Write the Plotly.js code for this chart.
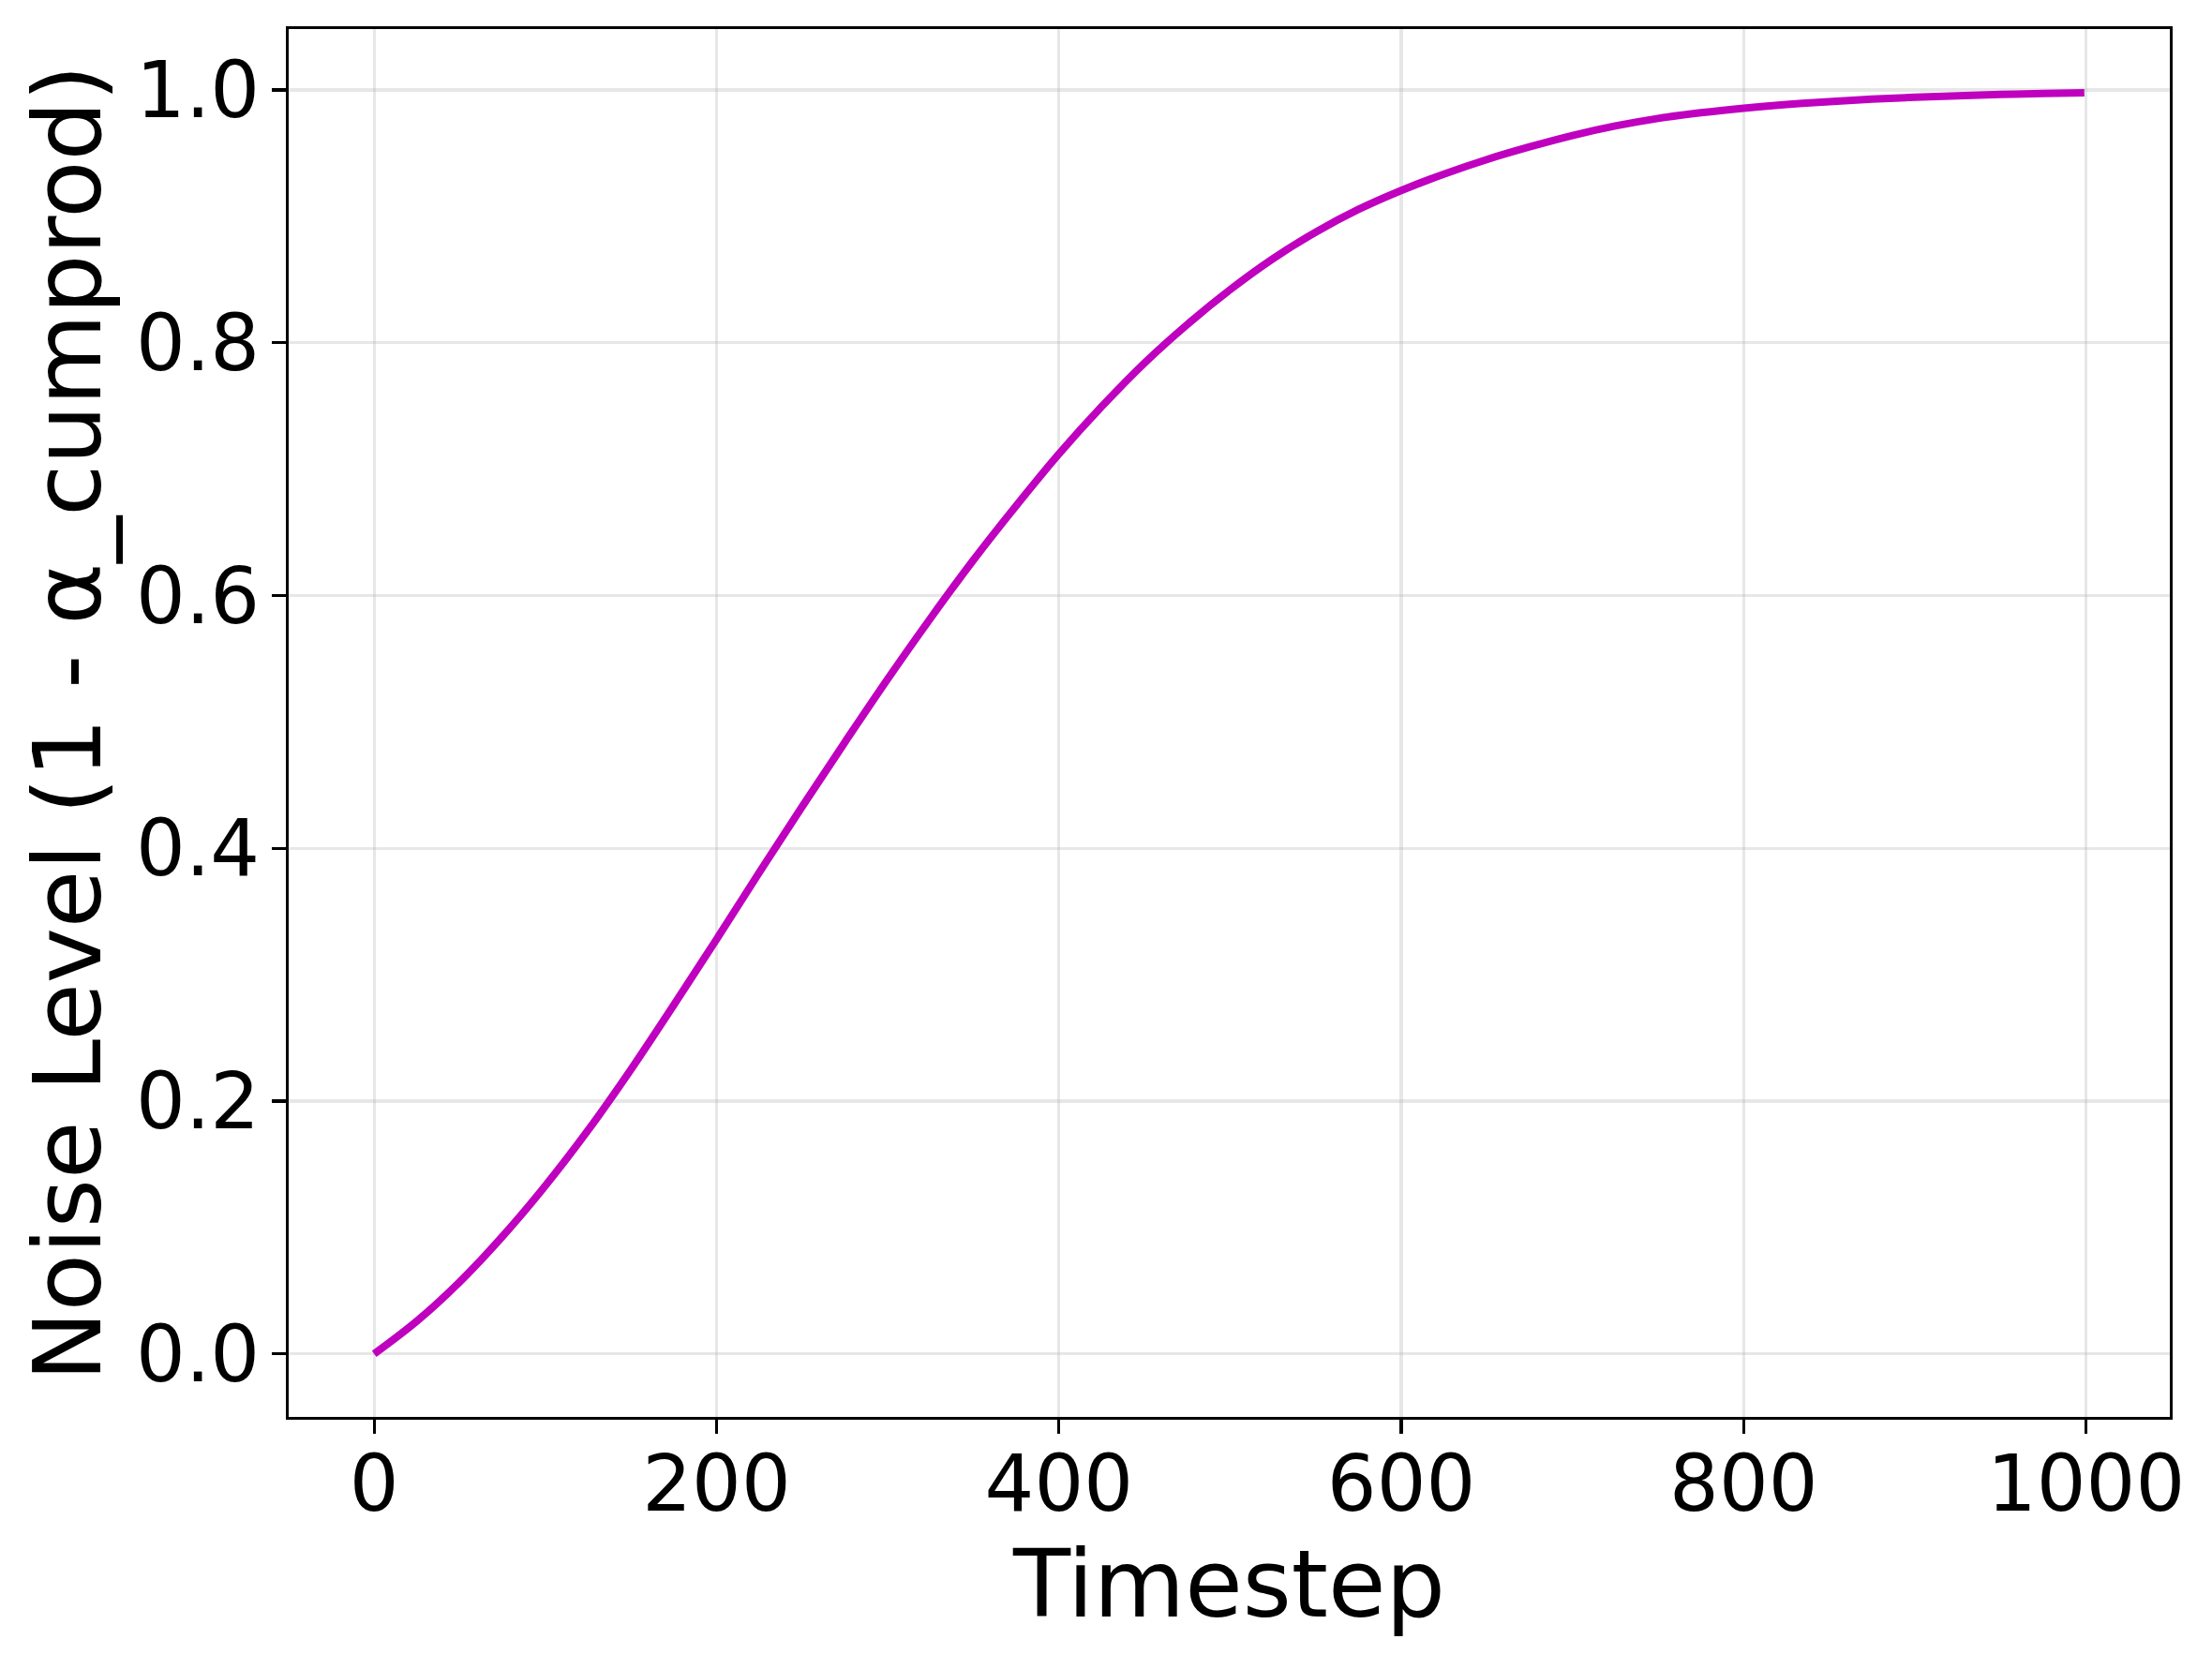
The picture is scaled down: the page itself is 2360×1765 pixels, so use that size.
<!DOCTYPE html>
<html>
<head>
<meta charset="utf-8">
<script src="https://cdn.plot.ly/plotly-3.0.1.min.js"></script>
<style>
  html, body { margin: 0; padding: 0; background: #fff; }
  #chart { width: 2360px; height: 1765px; }
</style>
</head>
<body>
<div id="chart"></div>
<script>
// timesteps and noise level (1 - alpha_cumprod)
var timesteps = [0, 25, 50, 75, 100, 125, 150, 175, 200, 225, 250, 275, 300, 325, 350,
                 375, 400, 425, 450, 475, 500, 525, 550, 575, 600, 625, 650, 675, 700,
                 725, 750, 775, 800, 825, 850, 875, 900, 925, 950, 975, 999];
var noiseLevel = [0.000, 0.026, 0.057, 0.093, 0.133, 0.177, 0.225, 0.276, 0.328, 0.381,
                  0.433, 0.484, 0.534, 0.582, 0.628, 0.671, 0.712, 0.7495, 0.784, 0.8145,
                  0.842, 0.8665, 0.8875, 0.9055, 0.9205, 0.9335, 0.945, 0.955, 0.964,
                  0.9715, 0.9775, 0.982, 0.9856, 0.9885, 0.9908, 0.9927, 0.9942, 0.9954,
                  0.9964, 0.9972, 0.9978];

var xTicks = [0, 200, 400, 600, 800, 1000];
var yTicks = [0.0, 0.2, 0.4, 0.6, 0.8, 1.0];

var trace = {
  x: timesteps,
  y: noiseLevel,
  type: "scatter",
  mode: "lines",
  line: { color: "#bf00bf", width: 8, shape: "spline", smoothing: 1 },
  hoverinfo: "skip"
};

var fontFamily = "DejaVu Sans";

var layout = {
  width: 2360,
  height: 1765,
  margin: { l: 308, r: 45, t: 31, b: 253, pad: 0 },
  paper_bgcolor: "#fff",
  plot_bgcolor: "#fff",
  showlegend: false,
  font: { family: fontFamily, size: 83, color: "#000" },
  xaxis: {
    range: [-49.95, 1048.95],
    tickvals: xTicks,
    ticktext: xTicks.map(String),
    ticks: "outside",
    ticklen: 15,
    tickwidth: 3.3,
    tickcolor: "#000",
    ticklabelstandoff: -18,
    tickfont: { family: fontFamily, size: 83, color: "#000" },
    showline: true,
    linecolor: "#000",
    linewidth: 3.3,
    mirror: true,
    showgrid: true,
    gridcolor: "rgba(176,176,176,0.3)",
    gridwidth: 3.3,
    zeroline: false,
    automargin: false,
    title: { text: "Timestep", font: { family: fontFamily, size: 100, color: "#000" }, standoff: 8 }
  },
  yaxis: {
    range: [-0.0499, 1.0482],
    tickvals: yTicks,
    ticktext: yTicks.map(function (v) { return v.toFixed(1); }),
    ticks: "outside",
    ticklen: 15,
    tickwidth: 3.3,
    tickcolor: "#000",
    ticklabelstandoff: -4,
    tickfont: { family: fontFamily, size: 83, color: "#000" },
    showline: true,
    linecolor: "#000",
    linewidth: 3.3,
    mirror: true,
    showgrid: true,
    gridcolor: "rgba(176,176,176,0.3)",
    gridwidth: 3.3,
    zeroline: false,
    automargin: false,
    title: { text: "Noise Level (1 - α_cumprod)", font: { family: fontFamily, size: 100, color: "#000" }, standoff: 5 }
  }
};

Plotly.newPlot("chart", [trace], layout, { staticPlot: true, displayModeBar: false });
</script>
</body>
</html>
